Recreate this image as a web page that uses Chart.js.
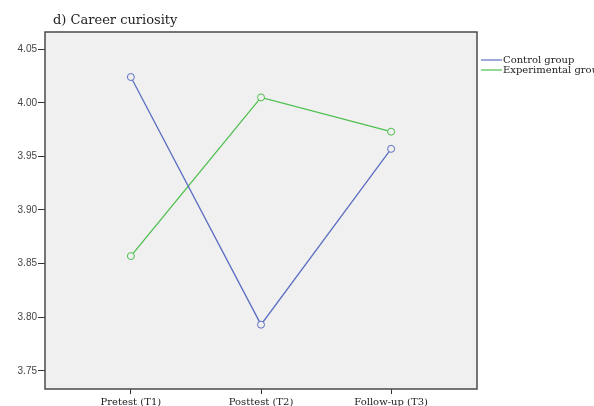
<!DOCTYPE html>
<html>
<head>
<meta charset="utf-8">
<script src="https://cdn.jsdelivr.net/npm/chart.js@4"></script>
<style>
  html, body { margin: 0; padding: 0; background: #fff; }
  #wrap { width: 594px; height: 406px; position: relative; }
</style>
</head>
<body>
<div id="wrap"><canvas id="curiosityChart"></canvas></div>
<script>
const titleText = 'd) Career curiosity';
const timepoints = ['Pretest (T1)', 'Posttest (T2)', 'Follow-up (T3)'];
const seriesNames = ['Control group', 'Experimental group'];
const controlMeans = [4.024, 3.793, 3.957];
const experimentalMeans = [3.857, 4.005, 3.973];
const yTicks = [3.75, 3.80, 3.85, 3.90, 3.95, 4.00, 4.05];

const blue = '#5d6fc2';
const green = '#4cbf4c';
const plotBg = '#f0f0f0';

const toPoints = arr => arr.map((v, i) => ({ x: i, y: v }));

// plot box, title and the clipped legend on the right (SPSS style)
const spssFrame = {
    id: 'spssFrame',
    beforeDatasetsDraw(chart) {
        const { ctx, chartArea: a } = chart;
        ctx.save();
        ctx.fillStyle = plotBg;
        ctx.fillRect(a.left, a.top, a.right - a.left, a.bottom - a.top);
        ctx.restore();
    },
    afterDraw(chart) {
        const { ctx, chartArea: a } = chart;
        ctx.save();
        ctx.strokeStyle = '#4a4a4a';
        ctx.lineWidth = 1.5;
        ctx.strokeRect(a.left, a.top, a.right - a.left, a.bottom - a.top);

        ctx.fillStyle = '#222';
        ctx.font = '13px "DejaVu Serif"';
        ctx.textBaseline = 'alphabetic';
        ctx.fillText(titleText, a.left + 8, 24);

        ctx.font = '10px "DejaVu Serif"';
        ctx.textBaseline = 'middle';
        chart.data.datasets.forEach((ds, i) => {
            const y = 60 + i * 10;
            ctx.strokeStyle = ds.borderColor;
            ctx.lineWidth = 1.2;
            ctx.beginPath();
            ctx.moveTo(a.right + 4, y);
            ctx.lineTo(a.right + 25, y);
            ctx.stroke();
            ctx.fillStyle = '#222';
            ctx.fillText(ds.label, a.right + 26, y);
        });
        ctx.restore();
    }
};

new Chart(document.getElementById('curiosityChart').getContext('2d'), {
    type: 'line',
    data: {
        datasets: [
            {
                label: seriesNames[0],
                data: toPoints(controlMeans),
                borderColor: blue,
                borderWidth: 1.3,
                pointRadius: 3.5,
                pointBorderWidth: 1,
                pointBackgroundColor: plotBg,
                pointBorderColor: blue
            },
            {
                label: seriesNames[1],
                data: toPoints(experimentalMeans),
                borderColor: green,
                borderWidth: 1.3,
                pointRadius: 3.5,
                pointBorderWidth: 1,
                pointBackgroundColor: plotBg,
                pointBorderColor: green
            }
        ]
    },
    options: {
        responsive: true,
        maintainAspectRatio: false,
        animation: false,
        layout: { padding: { top: 32, right: 117, left: 0, bottom: 0 } },
        plugins: {
            legend: { display: false },
            tooltip: { enabled: false }
        },
        scales: {
            x: {
                type: 'linear',
                min: -0.66,
                max: 2.66,
                afterBuildTicks: axis => { axis.ticks = timepoints.map((t, i) => ({ value: i })); },
                afterFit: axis => { axis.height = 17; },
                border: { display: false },
                grid: { drawOnChartArea: false, drawTicks: true, tickLength: 5, color: '#333' },
                ticks: {
                    color: '#222',
                    padding: 2,
                    maxRotation: 0,
                    font: { family: 'DejaVu Serif', size: 10 },
                    callback: val => timepoints[val]
                }
            },
            y: {
                min: 3.733,
                max: 4.066,
                afterBuildTicks: axis => { axis.ticks = yTicks.map(v => ({ value: v })); },
                afterFit: axis => { axis.width = 45; },
                border: { display: false },
                grid: { drawOnChartArea: false, drawTicks: true, tickLength: 7, color: '#333' },
                ticks: {
                    color: '#444',
                    padding: 1,
                    font: { family: '"Liberation Sans", Arial, sans-serif', size: 10 },
                    callback: val => val.toFixed(2)
                }
            }
        }
    },
    plugins: [spssFrame]
});
</script>
</body>
</html>
